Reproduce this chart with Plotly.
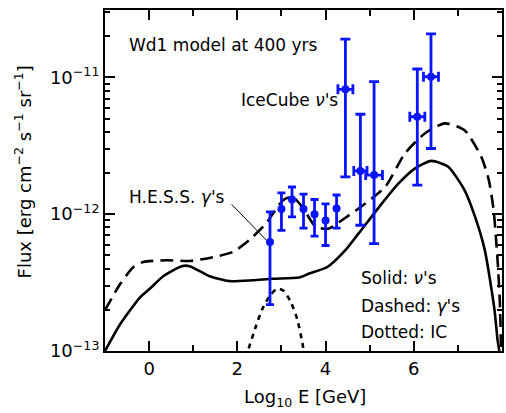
import numpy as np
import plotly.graph_objects as go

# ---- model curves (log10 E [GeV], flux) ----
nu_logE = [-1.0, -0.65, -0.2, 0.02, 0.32, 0.74, 0.92, 1.37, 1.82, 2.35, 2.8, 3.4, 3.63,
           4.04, 4.45, 4.75, 5.28, 5.65, 6.03, 6.4, 6.78, 7.15, 7.39, 7.61, 7.83, 7.9, 7.94]
nu_flux = [1.00e-13, 1.58e-13, 2.48e-13, 2.86e-13, 3.52e-13, 4.17e-13, 4.17e-13, 3.52e-13,
           3.24e-13, 3.29e-13, 3.37e-13, 3.44e-13, 3.68e-13, 4.11e-13, 5.46e-13, 7.24e-13,
           1.20e-12, 1.67e-12, 2.16e-12, 2.45e-12, 2.22e-12, 1.50e-12, 9.55e-13, 5.46e-13,
           2.00e-13, 1.20e-13, 1.00e-13]

gam_logE = [-1.0, -0.65, -0.35, -0.13, 0.4, 0.92, 1.37, 1.9, 2.27, 2.65, 3.03, 3.25, 3.47,
            3.78, 4.08, 4.37, 4.75, 5.35, 5.8, 6.25, 6.7, 7.15, 7.53, 7.7, 7.81, 7.9, 7.95, 7.98]
gam_flux = [1.99e-13, 3.11e-13, 4.12e-13, 4.48e-13, 4.60e-13, 4.55e-13, 4.79e-13, 5.30e-13,
            6.46e-13, 8.55e-13, 1.26e-12, 1.34e-12, 1.13e-12, 8.07e-13, 7.85e-13, 9.03e-13,
            1.10e-12, 1.58e-12, 2.78e-12, 3.89e-12, 4.61e-12, 4.11e-12, 2.63e-12, 1.78e-12,
            1.07e-12, 4.57e-13, 2.34e-13, 1.00e-13]

ic_logE = [2.2, 2.24, 2.42, 2.57, 2.75, 2.91, 3.05, 3.21, 3.36, 3.48, 3.51]
ic_flux = [8.9e-14, 1.00e-13, 1.51e-13, 2.04e-13, 2.57e-13, 2.86e-13, 2.75e-13, 2.29e-13,
           1.70e-13, 1.12e-13, 9.5e-14]

# ---- H.E.S.S. gamma-ray points ----
hess_logE = [2.74, 3.0, 3.24, 3.5, 3.75, 4.0, 4.25]
hess_flux = [6.27e-13, 1.09e-12, 1.28e-12, 1.09e-12, 1.00e-12, 9.0e-13, 1.10e-12]
hess_hi = [1.04e-12, 1.43e-12, 1.58e-12, 1.40e-12, 1.28e-12, 1.19e-12, 1.38e-12]
hess_lo = [2.18e-13, 7.6e-13, 9.55e-13, 7.9e-13, 6.9e-13, 5.9e-13, 7.9e-13]

# ---- IceCube neutrino points ----
ice_logE = [4.45, 4.79, 5.1, 6.08, 6.39]
ice_xerr = [0.17, 0.15, 0.19, 0.17, 0.17]
ice_flux = [8.17e-12, 2.07e-12, 1.93e-12, 5.15e-12, 1.01e-11]
ice_hi = [1.9e-11, 5.37e-12, 9.3e-12, 1.15e-11, 2.08e-11]
ice_lo = [1.87e-12, 8.3e-13, 6.1e-13, 1.63e-12, 3.02e-12]

y_tickvals = [1e-13, 1e-12, 1e-11]
y_ticktext = ["10<sup>\u221213</sup>", "10<sup>\u221212</sup>", "10<sup>\u221211</sup>"]
x_tickvals = [0, 2, 4, 6, 8]

FONT = "DejaVu Sans"
BLUE = "#0a14ff"

fig = go.Figure()

fig.add_trace(go.Scatter(x=nu_logE, y=nu_flux, mode="lines", line=dict(color="black", width=2.6, shape="spline", smoothing=0.6)))
fig.add_trace(go.Scatter(x=gam_logE, y=gam_flux, mode="lines", line=dict(color="black", width=2.6, dash="13px,7px", shape="spline", smoothing=0.6)))
fig.add_trace(go.Scatter(x=ic_logE, y=ic_flux, mode="lines", line=dict(color="black", width=2.6, dash="5px,5px", shape="spline", smoothing=0.6)))

# leader line for the H.E.S.S. label
fig.add_trace(go.Scatter(x=[1.87, 2.69], y=[1.18e-12, 6.3e-13], mode="lines", line=dict(color="black", width=1)))

fig.add_trace(go.Scatter(
    x=hess_logE, y=hess_flux, mode="markers",
    marker=dict(color=BLUE, size=8),
    error_y=dict(type="data", symmetric=False,
                 array=[h - f for h, f in zip(hess_hi, hess_flux)],
                 arrayminus=[f - l for f, l in zip(hess_flux, hess_lo)],
                 color=BLUE, thickness=2.8, width=4)))

fig.add_trace(go.Scatter(
    x=ice_logE, y=ice_flux, mode="markers",
    marker=dict(color=BLUE, size=8),
    error_x=dict(type="data", array=ice_xerr, color=BLUE, thickness=2.8, width=5),
    error_y=dict(type="data", symmetric=False,
                 array=[h - f for h, f in zip(ice_hi, ice_flux)],
                 arrayminus=[f - l for f, l in zip(ice_flux, ice_lo)],
                 color=BLUE, thickness=2.8, width=5)))

ann_font = dict(family=FONT, size=17, color="black")
annotations = [
    dict(x=-0.5, y=-10.764, text="Wd1 model at 400 yrs"),
    dict(x=2.03, y=-11.166, text="IceCube <i>\u03bd</i>'s"),
    dict(x=-0.5, y=-11.876, text="H.E.S.S. <i>\u03b3</i>'s"),
    dict(x=4.75, y=-12.468, text="Solid: <i>\u03bd</i>'s"),
    dict(x=4.75, y=-12.673, text="Dashed: <i>\u03b3</i>'s"),
    dict(x=4.75, y=-12.863, text="Dotted: IC"),
]
for a in annotations:
    a.update(xref="x", yref="y", xanchor="left", yanchor="middle", showarrow=False, font=ann_font)

annotations.append(dict(xref="paper", yref="paper", x=-0.2055, y=0.525, textangle=-90,
                        xanchor="center", yanchor="middle", showarrow=False,
                        text="Flux [erg cm<sup>\u22122</sup> s<sup>\u22121</sup> sr<sup>\u22121</sup>]",
                        font=dict(family=FONT, size=18, color="black")))
annotations.append(dict(xref="paper", yref="paper", x=0.504, y=-0.138,
                        xanchor="center", yanchor="middle", showarrow=False,
                        text="Log<sub>10</sub> E [GeV]",
                        font=dict(family=FONT, size=18, color="black")))

minor_y = [k * 10.0 ** n for n in (-13, -12, -11) for k in range(2, 10)]

fig.update_layout(
    width=506, height=413,
    margin=dict(l=105, r=2, t=10, b=62),
    paper_bgcolor="white", plot_bgcolor="white",
    showlegend=False,
    font=dict(family=FONT, size=18, color="black"),
    annotations=annotations,
    xaxis=dict(range=[-1, 8], tickmode="array", tickvals=x_tickvals,
               ticks="inside", ticklen=10, tickwidth=2, tickcolor="black",
               showline=True, linewidth=2, linecolor="black", mirror="ticks",
               showgrid=False, zeroline=False,
               minor=dict(tickmode="array", tickvals=[-1, 1, 3, 5, 7], ticks="inside",
                          ticklen=6, tickwidth=2, tickcolor="black", showgrid=False),
               tickfont=dict(family=FONT, size=18)),
    yaxis=dict(type="log", range=[-13, -10.508], tickmode="array",
               tickvals=y_tickvals, ticktext=y_ticktext,
               ticks="inside", ticklen=10, tickwidth=2, tickcolor="black",
               showline=True, linewidth=2, linecolor="black", mirror="ticks",
               showgrid=False, zeroline=False,
               minor=dict(tickmode="array", tickvals=minor_y, ticks="inside",
                          ticklen=5, tickwidth=1.5, tickcolor="black", showgrid=False),
               tickfont=dict(family=FONT, size=18)),
)

fig.write_html("out.html")
